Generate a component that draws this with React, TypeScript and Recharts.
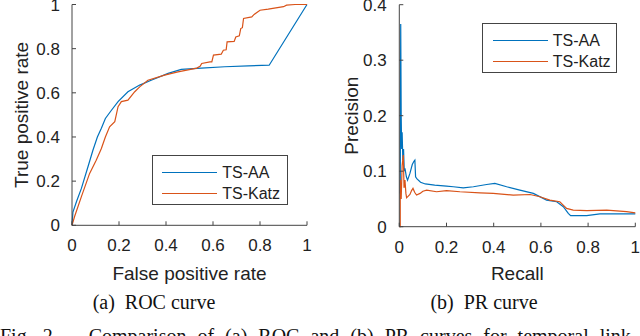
import { Label, Legend, Line, LineChart, XAxis, YAxis } from "recharts";

const seriesNames = ["TS-AA", "TS-Katz"];
const seriesColors = ["#0072BD", "#D95319"];

const rocTicks = [0, 0.2, 0.4, 0.6, 0.8, 1];
const prXTicks = [0, 0.2, 0.4, 0.6, 0.8, 1];
const prYTicks = [0, 0.1, 0.2, 0.3, 0.4];

// ROC, TS-AA
const rocAaFpr = [0, 0.004, 0.02, 0.04, 0.068, 0.089, 0.108, 0.125, 0.142, 0.167, 0.196, 0.238, 0.288, 0.337, 0.409, 0.465, 0.55, 0.65, 0.75, 0.839, 1];
const rocAaTpr = [0, 0.06, 0.11, 0.167, 0.265, 0.34, 0.4, 0.44, 0.484, 0.52, 0.56, 0.605, 0.635, 0.657, 0.688, 0.706, 0.712, 0.718, 0.722, 0.725, 1];

// ROC, TS-Katz
const rocKatzFpr = [0, 0.011, 0.04, 0.075, 0.103, 0.125, 0.142, 0.16, 0.182, 0.196, 0.21, 0.238, 0.267, 0.288, 0.323, 0.394, 0.451, 0.531, 0.545, 0.552, 0.587, 0.595, 0.602, 0.635, 0.644, 0.656, 0.66, 0.69, 0.697, 0.712, 0.718, 0.725, 0.73, 0.765, 0.775, 0.8, 0.835, 0.9, 0.913, 0.949, 1];
const rocKatzTpr = [0, 0.04, 0.13, 0.235, 0.295, 0.348, 0.4, 0.446, 0.469, 0.537, 0.56, 0.567, 0.605, 0.627, 0.657, 0.68, 0.695, 0.712, 0.72, 0.733, 0.74, 0.74, 0.771, 0.775, 0.793, 0.795, 0.831, 0.833, 0.853, 0.858, 0.891, 0.895, 0.937, 0.944, 0.955, 0.974, 0.979, 0.99, 0.997, 1, 1];

// PR, TS-AA
const prAaRecall = [0.004, 0.006, 0.008, 0.01, 0.012, 0.015, 0.018, 0.021, 0.024, 0.03, 0.035, 0.045, 0.055, 0.062, 0.066, 0.069, 0.075, 0.09, 0.11, 0.15, 0.2, 0.229, 0.271, 0.314, 0.37, 0.405, 0.455, 0.511, 0.568, 0.624, 0.667, 0.695, 0.716, 0.726, 0.794, 0.85, 1];
const prAaPrecision = [0.06, 0.365, 0.2, 0.14, 0.17, 0.12, 0.14, 0.1, 0.105, 0.09, 0.084, 0.096, 0.112, 0.118, 0.12, 0.09, 0.086, 0.08, 0.077, 0.075, 0.073, 0.072, 0.07, 0.072, 0.076, 0.078, 0.072, 0.066, 0.06, 0.048, 0.045, 0.036, 0.024, 0.02, 0.02, 0.023, 0.023];

// PR, TS-Katz
const prKatzRecall = [0, 0.004, 0.004, 0.008, 0.012, 0.017, 0.02, 0.024, 0.028, 0.031, 0.038, 0.045, 0.052, 0.058, 0.065, 0.073, 0.088, 0.1, 0.116, 0.158, 0.2, 0.257, 0.342, 0.398, 0.483, 0.554, 0.596, 0.638, 0.68, 0.709, 0.737, 0.794, 0.879, 0.963, 1];
const prKatzPrecision = [0, 0, 0.084, 0.05, 0.11, 0.129, 0.07, 0.084, 0.06, 0.052, 0.055, 0.058, 0.065, 0.069, 0.062, 0.057, 0.06, 0.064, 0.066, 0.063, 0.065, 0.063, 0.061, 0.06, 0.057, 0.058, 0.054, 0.048, 0.045, 0.033, 0.03, 0.029, 0.03, 0.027, 0.025];

const toPoints = (xs: number[], ys: number[]) => xs.map((x, i) => ({ x, y: ys[i] }));

const rocAa = toPoints(rocAaFpr, rocAaTpr);
const rocKatz = toPoints(rocKatzFpr, rocKatzTpr);
const prAa = toPoints(prAaRecall, prAaPrecision);
const prKatz = toPoints(prKatzRecall, prKatzPrecision);

const SANS = "'Liberation Sans', Arial, Helvetica, sans-serif";
const SERIF = "'Liberation Serif', 'Times New Roman', serif";
const AXIS = "#444";
const TEXT = "#222";

const tickStyle = { fill: TEXT, fontSize: 17, fontFamily: SANS };
const fmt = (v: number) => String(v);
const noTick = () => <g />;

const LegendBox = ({ payload }: any) => (
  <div
    style={{
      boxSizing: "border-box",
      width: "100%",
      height: "100%",
      border: `1px solid ${AXIS}`,
      background: "#fff",
      paddingTop: 5.5,
      paddingLeft: 9.5,
      fontFamily: SANS,
      fontSize: 16,
      color: TEXT,
    }}
  >
    {(payload || []).map((e: any) => (
      <div key={e.value} style={{ display: "flex", alignItems: "center", height: 21 }}>
        <svg width={55} height={3} style={{ display: "block" }}>
          <line x1={0} x2={55} y1={1.5} y2={1.5} stroke={e.color} strokeWidth={1.2} />
        </svg>
        <span style={{ marginLeft: 5, lineHeight: "21px" }}>{e.value}</span>
      </div>
    ))}
  </div>
);

const xTitle = (text: string) => (props: any) => {
  const vb = props.viewBox;
  return (
    <text x={vb.x + vb.width / 2} y={280} textAnchor="middle" fill={TEXT} fontSize={19} fontFamily={SANS}>
      {text}
    </text>
  );
};

const yTitle = (text: string, x: number) => (props: any) => {
  const vb = props.viewBox;
  const cy = vb.y + vb.height / 2;
  return (
    <text x={x} y={cy} transform={`rotate(-90 ${x} ${cy})`} textAnchor="middle" fill={TEXT} fontSize={19} fontFamily={SANS}>
      {text}
    </text>
  );
};

const RocChart = () => (
  <LineChart width={320} height={290} margin={{ top: 4.5, right: 13, bottom: 0, left: 0 }}>
    <XAxis
      type="number"
      dataKey="x"
      domain={[0, 1]}
      ticks={rocTicks}
      interval={0}
      tickFormatter={fmt}
      height={64.7}
      tickSize={-4}
      tickMargin={18}
      tick={tickStyle}
      stroke={AXIS}
    >
      <Label content={xTitle("False positive rate")} />
    </XAxis>
    <XAxis xAxisId="top" orientation="top" type="number" domain={[0, 1]} ticks={rocTicks} interval={0} height={0} tickSize={-4} tick={noTick} stroke={AXIS} />
    <YAxis
      type="number"
      domain={[0, 1]}
      ticks={rocTicks}
      interval={0}
      tickFormatter={fmt}
      width={72}
      tickSize={-4}
      tickMargin={16}
      tick={tickStyle}
      stroke={AXIS}
    >
      <Label content={yTitle("True positive rate", 28.5)} />
    </YAxis>
    <YAxis yAxisId="right" orientation="right" type="number" domain={[0, 1]} ticks={rocTicks} interval={0} width={0} tickSize={-4} tick={noTick} stroke={AXIS} />
    <Line data={rocAa} dataKey="y" name={seriesNames[0]} stroke={seriesColors[0]} strokeWidth={1.2} dot={false} isAnimationActive={false} />
    <Line data={rocKatz} dataKey="y" name={seriesNames[1]} stroke={seriesColors[1]} strokeWidth={1.2} dot={false} isAnimationActive={false} />
    <Legend
      layout="horizontal"
      verticalAlign="middle"
      align="center"
      content={<LegendBox />}
      wrapperStyle={{ left: 151.7, top: 155, width: 136, height: 50 }}
    />
  </LineChart>
);

const PrChart = () => (
  <LineChart width={320} height={290} margin={{ top: 4.7, right: 4.7, bottom: 0, left: 0 }}>
    <XAxis
      type="number"
      dataKey="x"
      domain={[0, 1]}
      ticks={prXTicks}
      interval={0}
      tickFormatter={fmt}
      height={63.3}
      tickSize={-4}
      tickMargin={18}
      tick={tickStyle}
      stroke={AXIS}
    >
      <Label content={xTitle("Recall")} />
    </XAxis>
    <XAxis xAxisId="top" orientation="top" type="number" domain={[0, 1]} ticks={prXTicks} interval={0} height={0} tickSize={-4} tick={noTick} stroke={AXIS} />
    <YAxis
      type="number"
      domain={[0, 0.4]}
      ticks={prYTicks}
      interval={0}
      tickFormatter={fmt}
      width={79.3}
      tickSize={-4}
      tickMargin={16.6}
      tick={tickStyle}
      stroke={AXIS}
    >
      <Label content={yTitle("Precision", 38.5)} />
    </YAxis>
    <YAxis yAxisId="right" orientation="right" type="number" domain={[0, 0.4]} ticks={prYTicks} interval={0} width={0} tickSize={-4} tick={noTick} stroke={AXIS} />
    <Line data={prAa} dataKey="y" name={seriesNames[0]} stroke={seriesColors[0]} strokeWidth={1.2} dot={false} isAnimationActive={false} />
    <Line data={prKatz} dataKey="y" name={seriesNames[1]} stroke={seriesColors[1]} strokeWidth={1.2} dot={false} isAnimationActive={false} />
    <Legend
      layout="horizontal"
      verticalAlign="middle"
      align="center"
      content={<LegendBox />}
      wrapperStyle={{ left: 162.3, top: 23.3, width: 134.4, height: 50 }}
    />
  </LineChart>
);

const captionStyle: any = {
  position: "absolute",
  fontFamily: SERIF,
  fontSize: 20,
  lineHeight: "20px",
  color: "#111",
  whiteSpace: "pre",
  transform: "translateX(-50%)",
};

export default function App() {
  return (
    <div style={{ position: "fixed", left: 0, top: 0, width: 640, height: 336, overflow: "hidden", background: "#fff" }}>
      <div style={{ position: "absolute", left: 0, top: 0 }}>
        <RocChart />
      </div>
      <div style={{ position: "absolute", left: 320, top: 0 }}>
        <PrChart />
      </div>
      <div style={{ ...captionStyle, left: 154, top: 292 }}>{"(a)  ROC curve"}</div>
      <div style={{ ...captionStyle, left: 484, top: 292 }}>{"(b)  PR curve"}</div>
      <div
        style={{
          position: "absolute",
          left: 0,
          top: 326,
          fontFamily: SERIF,
          fontSize: 20,
          lineHeight: "20px",
          color: "#111",
          whiteSpace: "pre",
          wordSpacing: 6,
        }}
      >
        {"Fig. 2.\u2003 Comparison of (a) ROC and (b) PR curves for temporal link prediction on the dataset."}
      </div>
    </div>
  );
}
